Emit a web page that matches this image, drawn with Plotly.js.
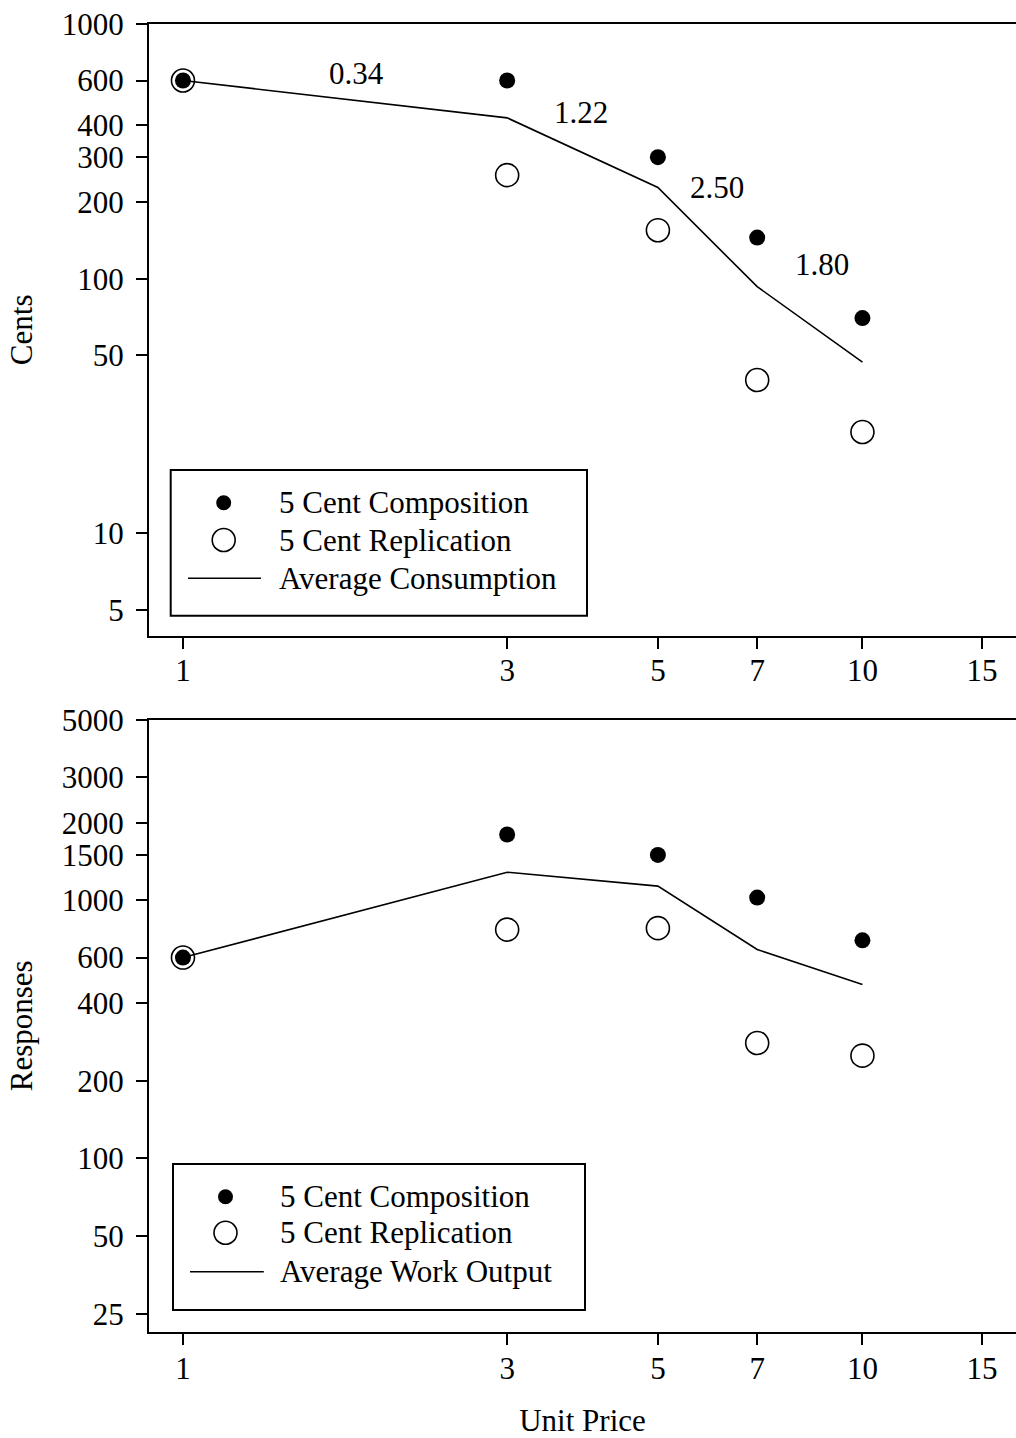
<!DOCTYPE html>
<html>
<head>
<meta charset="utf-8">
<script src="https://cdn.plot.ly/plotly-3.0.1.min.js"></script>
<style>
  html, body { margin: 0; padding: 0; background: #fff; }
  #chart { width: 1016px; height: 1438px; }
</style>
</head>
<body>
<div id="chart"></div>
<script>
// ---------- data ----------
const unitPrice = [1, 3, 5, 7, 10];

// top panel: consumption (cents)
const compCents = [600, 600, 300, 145, 70];
const replCents = [600, 255, 155, 40, 25];
const avgCents  = [600, 428, 228, 93, 47];
const elasticityLabels = ['0.34', '1.22', '2.50', '1.80'];

// bottom panel: work output (responses)
const compResp = [600, 1800, 1500, 1025, 700];
const replResp = [600, 770, 780, 280, 250];
const avgResp  = [600, 1285, 1135, 645, 472];

// ticks
const xTicks = [1, 3, 5, 7, 10, 15];
const yTicksTop = [5, 10, 50, 100, 200, 300, 400, 600, 1000];
const yTicksBottom = [25, 50, 100, 200, 400, 600, 1000, 1500, 2000, 3000, 5000];

const legendTop = ['5 Cent Composition', '5 Cent Replication', 'Average Consumption'];
const legendBottom = ['5 Cent Composition', '5 Cent Replication', 'Average Work Output'];

// ---------- layout helpers ----------
const W = 1016, H = 1438;
const P = x => x / W;          // page x px -> paper
const Q = y => 1 - y / H;      // page y px -> paper
const FONT = 'Liberation Serif, Times New Roman, serif';
const FS = 31;

function lineTrace(y, xa, ya) {
  return { x: unitPrice, y: y, xaxis: xa, yaxis: ya, type: 'scatter', mode: 'lines',
           line: { color: '#000', width: 1.6 }, showlegend: false, hoverinfo: 'skip' };
}
function openTrace(y, xa, ya) {
  return { x: unitPrice, y: y, xaxis: xa, yaxis: ya, type: 'scatter', mode: 'markers',
           marker: { symbol: 'circle-open', size: 23, color: '#000', line: { width: 1.6, color: '#000' } },
           showlegend: false };
}
function filledTrace(y, xa, ya) {
  return { x: unitPrice, y: y, xaxis: xa, yaxis: ya, type: 'scatter', mode: 'markers',
           marker: { symbol: 'circle', size: 16, color: '#000' }, showlegend: false };
}

const data = [
  lineTrace(avgCents, 'x', 'y'), openTrace(replCents, 'x', 'y'), filledTrace(compCents, 'x', 'y'),
  lineTrace(avgResp, 'x2', 'y2'), openTrace(replResp, 'x2', 'y2'), filledTrace(compResp, 'x2', 'y2')
];

const axisCommon = {
  type: 'log', showgrid: false, zeroline: false, showline: true, linecolor: '#000', linewidth: 2,
  ticks: 'outside', ticklen: 11, tickwidth: 2, tickcolor: '#000',
  tickfont: { family: FONT, size: FS, color: '#000' }, automargin: false, fixedrange: true
};
const xDomain = [149 / W, 1];
const xRange = [-0.05, 1.226];

const layout = {
  width: W, height: H,
  margin: { l: 0, r: 0, t: 0, b: 0 },
  paper_bgcolor: '#fff', plot_bgcolor: '#fff',
  showlegend: false,
  font: { family: FONT, size: FS, color: '#000' },
  xaxis: Object.assign({}, axisCommon, {
    domain: xDomain, range: xRange, anchor: 'y', mirror: true, ticklabelstandoff: -5,
    tickvals: xTicks, ticktext: xTicks.map(String)
  }),
  yaxis: Object.assign({}, axisCommon, {
    domain: [Q(635.7), Q(24)], range: [0.598, 3], anchor: 'x', ticklabelstandoff: 6,
    tickvals: yTicksTop, ticktext: yTicksTop.map(String),
    title: { text: 'Cents', font: { family: FONT, size: FS }, standoff: 20 }
  }),
  xaxis2: Object.assign({}, axisCommon, {
    domain: xDomain, range: xRange, anchor: 'y2', mirror: true, ticklabelstandoff: -3,
    tickvals: xTicks, ticktext: xTicks.map(String),
    title: { text: 'Unit Price', font: { family: FONT, size: FS }, standoff: 26 }
  }),
  yaxis2: Object.assign({}, axisCommon, {
    domain: [Q(1331.7), Q(720)], range: [1.328, Math.log10(5000)], anchor: 'x2', ticklabelstandoff: 6,
    tickvals: yTicksBottom, ticktext: yTicksBottom.map(String),
    title: { text: 'Responses', font: { family: FONT, size: FS }, standoff: 20 }
  }),
  shapes: [],
  annotations: []
};

// elasticity labels: placed at log-midpoints of each segment of the average line
const elastXShift = [11, -2, 9, 12];
const elastYShift = [26, 40, 50, 60];
elasticityLabels.forEach((t, i) => {
  layout.annotations.push({
    xref: 'x', yref: 'y',
    x: Math.log10(Math.sqrt(unitPrice[i] * unitPrice[i + 1])),
    y: Math.log10(Math.sqrt(avgCents[i] * avgCents[i + 1])),
    xshift: elastXShift[i], yshift: elastYShift[i],
    text: t, showarrow: false, font: { family: FONT, size: FS, color: '#000' }
  });
});

// custom legends (box, symbols, labels)
function addLegend(box, rows, markerX, lineX, textX, labels) {
  layout.shapes.push({ type: 'rect', xref: 'paper', yref: 'paper',
    x0: P(box[0]), x1: P(box[1]), y0: Q(box[3]), y1: Q(box[2]),
    line: { color: '#000', width: 2 }, fillcolor: 'rgba(0,0,0,0)' });
  // filled dot
  layout.shapes.push({ type: 'circle', xref: 'paper', yref: 'paper', xsizemode: 'pixel', ysizemode: 'pixel',
    xanchor: P(markerX), yanchor: Q(rows[0]), x0: -7.5, x1: 7.5, y0: -7.5, y1: 7.5,
    fillcolor: '#000', line: { width: 0 } });
  // open circle
  layout.shapes.push({ type: 'circle', xref: 'paper', yref: 'paper', xsizemode: 'pixel', ysizemode: 'pixel',
    xanchor: P(markerX), yanchor: Q(rows[1]), x0: -11.5, x1: 11.5, y0: -11.5, y1: 11.5,
    fillcolor: 'rgba(0,0,0,0)', line: { width: 1.6, color: '#000' } });
  // line sample
  layout.shapes.push({ type: 'line', xref: 'paper', yref: 'paper',
    x0: P(lineX[0]), x1: P(lineX[1]), y0: Q(rows[2]), y1: Q(rows[2]),
    line: { color: '#000', width: 1.6 } });
  labels.forEach((t, i) => {
    layout.annotations.push({ xref: 'paper', yref: 'paper', x: P(textX), y: Q(rows[i]),
      xanchor: 'left', yanchor: 'middle', text: t, showarrow: false,
      font: { family: FONT, size: FS, color: '#000' } });
  });
}
addLegend([170.7, 587, 470, 615.7], [502.7, 540, 578.3], 223.7, [188, 261], 277, legendTop);
addLegend([173, 585, 1164, 1310], [1196.7, 1232.7, 1271.7], 225.5, [190, 263.8], 278, legendBottom);

Plotly.newPlot('chart', data, layout, { staticPlot: true, displayModeBar: false });
</script>
</body>
</html>
